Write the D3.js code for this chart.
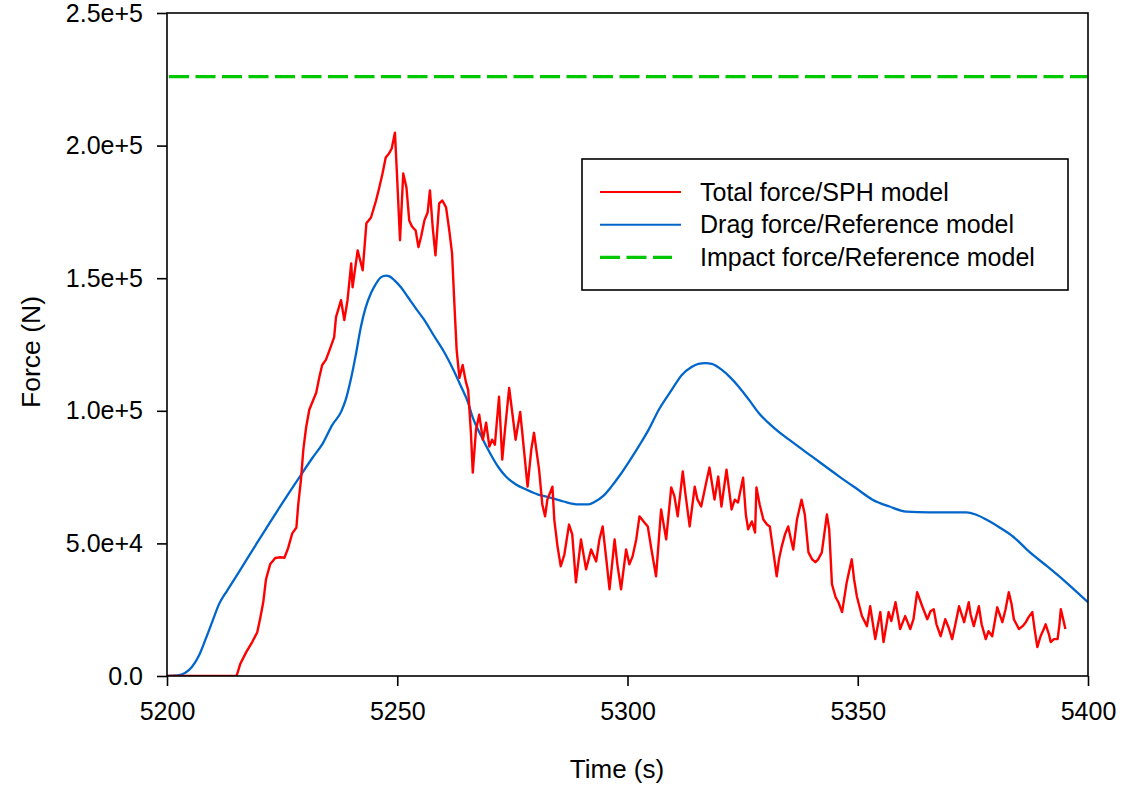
<!DOCTYPE html>
<html>
<head>
<meta charset="utf-8">
<script src="https://cdn.jsdelivr.net/npm/d3@7"></script>
<style>
  html, body { margin: 0; padding: 0; background: #ffffff; }
  svg { display: block; font-family: "Liberation Sans", Arial, sans-serif; }
</style>
</head>
<body>
<svg id="chart" width="1127" height="789"></svg>
<script>
// Total force from the SPH simulation (time in s, force in N)
const sphTime = [
  5200, 5215.1, 5215.9, 5217.2, 5218.5, 5219.6, 5220.2, 5220.9, 5221.5, 5222.4,
  5223.5, 5224.6, 5225.5, 5226.3, 5227.2, 5228.1, 5228.5, 5229.1, 5229.6, 5230.2,
  5230.9, 5231.6, 5232.4, 5233.1, 5233.7, 5234.5, 5235.3, 5236.3, 5236.7, 5237.8,
  5238.5, 5239.2, 5240.0, 5240.3, 5241.4, 5242.5, 5243.3, 5244.3, 5245.4, 5246.1,
  5246.8, 5247.5, 5248.2, 5248.8, 5249.5, 5249.9, 5250.6, 5251.3, 5252.0, 5252.6,
  5253.2, 5254.0, 5254.6, 5255.2, 5255.9, 5256.6, 5257.1, 5257.7, 5258.3, 5259.1,
  5259.8, 5260.6, 5261.3, 5261.9, 5262.4, 5262.9, 5263.5, 5264.2, 5264.9, 5265.4,
  5266.0, 5266.4, 5267.1, 5267.8, 5268.6, 5269.3, 5270.0, 5270.6, 5271.2, 5272.1,
  5272.8, 5273.4, 5274.3, 5274.9, 5275.7, 5276.7, 5277.3, 5278.3, 5279.1, 5279.7,
  5280.8, 5281.5, 5282.1, 5282.6, 5283.7, 5284.1, 5284.8, 5285.5, 5286.3, 5287.3,
  5288.0, 5288.8, 5289.9, 5291.0, 5292.1, 5293.2, 5293.9, 5294.6, 5295.4, 5296.1,
  5297.2, 5297.8, 5298.6, 5299.7, 5300.4, 5301.1, 5301.9, 5302.6, 5303.5, 5304.4,
  5305.2, 5306.2, 5307.3, 5308.4, 5309.5, 5310.2, 5310.9, 5312.0, 5312.6, 5313.5,
  5314.6, 5315.2, 5316.0, 5317.0, 5317.8, 5318.9, 5319.7, 5320.4, 5321.5, 5322.6,
  5323.3, 5324.0, 5325.1, 5325.7, 5326.2, 5327.0, 5327.7, 5328.0, 5328.7, 5329.5,
  5330.3, 5330.9, 5331.6, 5332.4, 5332.9, 5333.5, 5334.2, 5334.9, 5335.5, 5336.0,
  5336.8, 5337.8, 5338.5, 5339.3, 5340.1, 5340.8, 5341.4, 5342.2, 5343.3, 5343.8,
  5344.4, 5345.2, 5345.8, 5346.6, 5347.6, 5348.7, 5349.2, 5349.8, 5350.9, 5352.0,
  5352.7, 5353.8, 5354.9, 5355.6, 5356.7, 5357.3, 5358.2, 5359.2, 5360.3, 5361.4,
  5362.1, 5362.9, 5364.0, 5365.1, 5365.8, 5366.5, 5367.1, 5368.0, 5369.0, 5369.7,
  5370.5, 5371.2, 5372.0, 5373.1, 5374.1, 5374.5, 5375.2, 5376.3, 5376.9, 5377.8,
  5378.4, 5379.2, 5380.3, 5381.4, 5382.1, 5382.8, 5383.4, 5383.9, 5385.0, 5385.8,
  5386.5, 5387.1, 5387.9, 5388.4, 5389.0, 5389.7, 5390.4, 5390.8, 5391.5, 5391.9,
  5392.6, 5393.4, 5393.8, 5394.1, 5394.5, 5395.1
];
const sphForce = [
  0, 0, 4500, 9000, 12800, 16500, 21400, 27800, 36500, 42100,
  44500, 44800, 44600, 48200, 53800, 56000, 64700, 74100, 85300, 93600,
  100400, 103400, 106800, 112800, 117300, 119200, 122900, 127800, 135300, 141700,
  134200, 141700, 155600, 146600, 160500, 153000, 170700, 172900, 179300, 184200,
  189500, 195500, 197000, 198900, 204900, 190600, 164300, 189500, 184200, 171800,
  169500, 168000, 161700, 165800, 171800, 174800, 183100, 169200, 158600, 178200,
  179300, 176700, 168000, 159400, 140600, 122900, 112400, 117300, 110900, 107900,
  91700, 76700, 92900, 98500, 89100, 95500, 86500, 89100, 87200, 105300,
  81600, 92900, 108600, 100400, 89100, 99600, 89100, 71400, 85300, 91700,
  77800, 64700, 60200, 66500, 71400, 59000, 48900, 41400, 45900, 57100,
  53400, 35300, 51500, 40200, 47700, 43200, 51500, 56400, 44000, 32700,
  51500, 42100, 32700, 47700, 42100, 45100, 51500, 60200, 58300, 56400,
  47700, 37600, 62800, 51500, 71100, 67700, 60200, 77100, 68400, 56400,
  71400, 66500, 63900, 72200, 78600, 66500, 75200, 63900, 77800, 62800,
  66500, 65400, 74800, 60900, 55300, 58300, 54100, 71100, 64700, 59000,
  57100, 56400, 47700, 37600, 44000, 48900, 53400, 56400, 51500, 47700,
  59000, 66500, 60900, 46600, 44000, 42900, 44000, 46600, 60900, 55300,
  34600, 29700, 27800, 24100, 35300, 44000, 36500, 30100, 22600, 18800,
  26300, 13900, 24100, 12800, 24100, 20700, 27800, 17700, 22600, 17700,
  21400, 31600, 26300, 21400, 24400, 25200, 19500, 15000, 21400, 18400,
  13900, 19500, 26300, 20300, 27800, 23300, 18800, 26300, 19500, 13900,
  16900, 15000, 25900, 20300, 25200, 31600, 27100, 21400, 17700, 18800,
  20300, 22200, 24100, 17700, 10900, 15000, 17700, 19500, 15800, 12800,
  13900, 13900, 19500, 25200, 22200, 17700
];

// Drag force from the reference model
const dragTime = [
  5200, 5202.2, 5203.9, 5205.4, 5207.0, 5208.3, 5209.8, 5211.3, 5213.1, 5215.3,
  5219.2, 5224.0, 5228.7, 5231.6, 5233.8, 5235.9, 5237.8, 5238.8, 5239.9, 5241.0,
  5242.1, 5243.1, 5244.3, 5245.3, 5246.5, 5247.6, 5248.4, 5249.4, 5250.8, 5252.3,
  5254.0, 5255.9, 5258.0, 5260.3, 5262.1, 5263.9, 5265.4, 5266.4, 5268.2, 5270.1,
  5271.9, 5273.6, 5275.8, 5278.0, 5280.6, 5283.2, 5286.1, 5289.3, 5291.5, 5293.0,
  5294.8, 5296.5, 5298.3, 5300.2, 5302.4, 5304.6, 5306.8, 5309.6, 5311.8, 5313.9,
  5315.4, 5316.9, 5318.3, 5320.5, 5322.2, 5324.2, 5326.4, 5328.5, 5331.8, 5335.1,
  5340.1, 5346.0, 5349.7, 5353.2, 5356.9, 5360.5, 5365.6, 5369.9, 5373.6, 5375.6,
  5377.9, 5380.8, 5383.7, 5387.4, 5391.1, 5395.0, 5400
];
const dragForce = [
  0, 200, 1100, 3400, 7900, 13500, 20300, 27100, 32300, 38300,
  49200, 62400, 74800, 82300, 87600, 94700, 99600, 104100, 111700, 121100,
  131600, 138700, 144400, 147700, 150400, 151000, 150600, 149200, 146600, 142900,
  138700, 134200, 128200, 121800, 115800, 109000, 103000, 97400, 90600, 84200,
  78900, 75200, 72200, 70300, 68400, 67300, 65800, 64700, 64700, 65800,
  68000, 71400, 75600, 80500, 86500, 92900, 100400, 107900, 113500, 116500,
  117700, 118000, 117700, 115400, 112800, 109000, 104100, 99200, 93600, 89100,
  82700, 75200, 70700, 66500, 63900, 62000, 61700, 61700, 61700, 60900,
  59000, 56000, 52600, 46600, 41400, 35700, 27800
];

// Impact force from the reference model (constant over the time window)
const impactForce = 226000;

const xTicks = [5200, 5250, 5300, 5350, 5400];
const yTicks = [0, 50000, 100000, 150000, 200000, 250000];
const yTickLabels = ["0.0", "5.0e+4", "1.0e+5", "1.5e+5", "2.0e+5", "2.5e+5"];

const seriesNames = ["Total force/SPH model", "Drag force/Reference model", "Impact force/Reference model"];
const seriesColors = ["#ff0000", "#0066cc", "#00c800"];

const svg = d3.select("#chart");
const plot = { left: 167, right: 1088, top: 13, bottom: 676 };

const x = d3.scaleLinear().domain([5200, 5400]).range([plot.left, plot.right]);
const y = d3.scaleLinear().domain([0, 250000]).range([plot.bottom, plot.top]);

svg.append("clipPath").attr("id", "plot-clip")
  .append("rect")
  .attr("x", plot.left).attr("y", plot.top)
  .attr("width", plot.right - plot.left).attr("height", plot.bottom - plot.top);

const g = svg.append("g").attr("clip-path", "url(#plot-clip)");

// impact force: dashed horizontal line
g.append("line")
  .attr("x1", x(5200) + 2).attr("x2", x(5400))
  .attr("y1", y(impactForce)).attr("y2", y(impactForce))
  .attr("stroke", seriesColors[2]).attr("stroke-width", 3.2)
  .attr("stroke-dasharray", "20,6.5");

// drag force: smooth curve
const dragData = dragTime.map((t, i) => [t, dragForce[i]]);
g.append("path")
  .datum(dragData)
  .attr("fill", "none")
  .attr("stroke", seriesColors[1])
  .attr("stroke-width", 2.3)
  .attr("d", d3.line().x(d => x(d[0])).y(d => y(d[1])).curve(d3.curveMonotoneX));

// total SPH force: noisy trace
const sphData = sphTime.map((t, i) => [t, sphForce[i]]);
g.append("path")
  .datum(sphData)
  .attr("fill", "none")
  .attr("stroke", seriesColors[0])
  .attr("stroke-width", 2.4)
  .attr("stroke-linejoin", "round")
  .attr("d", d3.line().x(d => x(d[0])).y(d => y(d[1])));

// frame
svg.append("rect")
  .attr("x", plot.left).attr("y", plot.top)
  .attr("width", plot.right - plot.left).attr("height", plot.bottom - plot.top)
  .attr("fill", "none").attr("stroke", "#000").attr("stroke-width", 1.6);

// axes
const xAxis = d3.axisBottom(x).tickValues(xTicks).tickFormat(d3.format("d"))
  .tickSizeInner(10).tickSizeOuter(0).tickPadding(16);
const gx = svg.append("g").attr("transform", `translate(0,${plot.bottom})`).call(xAxis);
gx.select(".domain").remove();
gx.selectAll(".tick line").attr("stroke", "#000").attr("stroke-width", 1.6);
gx.selectAll(".tick text").attr("font-size", 25).attr("fill", "#000")
  .attr("font-family", "Liberation Sans, Arial, sans-serif");

const yAxis = d3.axisLeft(y).tickValues(yTicks).tickFormat((d, i) => yTickLabels[i])
  .tickSizeInner(10).tickSizeOuter(0).tickPadding(14);
const gy = svg.append("g").attr("transform", `translate(${plot.left},0)`).call(yAxis);
gy.select(".domain").remove();
gy.selectAll(".tick line").attr("stroke", "#000").attr("stroke-width", 1.6);
gy.selectAll(".tick text").attr("font-size", 25).attr("fill", "#000")
  .attr("font-family", "Liberation Sans, Arial, sans-serif");

// axis titles
svg.append("text")
  .attr("x", 617).attr("y", 778)
  .attr("text-anchor", "middle")
  .attr("font-size", 26)
  .text("Time (s)");

svg.append("text")
  .attr("transform", "translate(40,352) rotate(-90)")
  .attr("text-anchor", "middle")
  .attr("font-size", 26.5)
  .text("Force (N)");

// legend
const legend = svg.append("g");
legend.append("rect")
  .attr("x", 582).attr("y", 159).attr("width", 486).attr("height", 131)
  .attr("fill", "#fff").attr("stroke", "#000").attr("stroke-width", 1.6);

seriesNames.forEach((name, i) => {
  const ly = 192 + i * 32.7;
  const ln = legend.append("line")
    .attr("x1", 600).attr("x2", i === 2 ? 672 : 681)
    .attr("y1", ly).attr("y2", ly)
    .attr("stroke", seriesColors[i])
    .attr("stroke-width", i === 2 ? 3.2 : 2);
  if (i === 2) ln.attr("stroke-dasharray", "20,6.5");
  legend.append("text")
    .attr("x", 700).attr("y", ly + 8.5)
    .attr("font-size", 25)
    .text(name);
});
</script>
</body>
</html>
